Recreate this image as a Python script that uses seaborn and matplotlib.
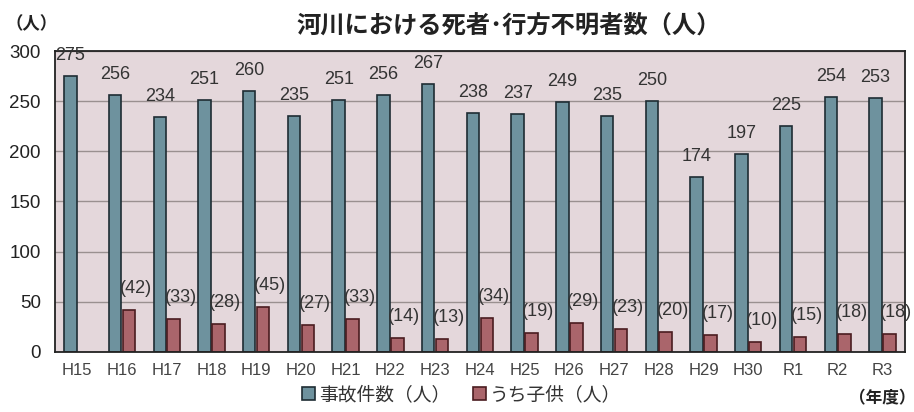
import pandas as pd
import numpy as np
import matplotlib
matplotlib.use("Agg")
import matplotlib.pyplot as plt
import seaborn as sns

# 年度
years = ['H15', 'H16', 'H17', 'H18', 'H19', 'H20', 'H21', 'H22', 'H23', 'H24',
         'H25', 'H26', 'H27', 'H28', 'H29', 'H30', 'R1', 'R2', 'R3']
# 事故件数（人）
total = [275, 256, 234, 251, 260, 235, 251, 256, 267, 238,
         237, 249, 235, 250, 174, 197, 225, 254, 253]
# うち子供（人） - H15 はデータなし
children = [np.nan, 42, 33, 28, 45, 27, 33, 14, 13, 34,
            19, 29, 23, 20, 17, 10, 15, 18, 18]

series_names = ['事故件数（人）', 'うち子供（人）']
colors = ['#6696a6', '#b55a62']
edges = ['#1e2c33', '#4a1c20']

df = pd.DataFrame({
    'year': years * 2,
    'value': total + children,
    'series': [series_names[0]] * len(years) + [series_names[1]] * len(years),
})

sns.set_style("white")
plt.rcParams['font.family'] = ['Liberation Sans', 'Noto Sans CJK JP', 'DejaVu Sans']
cjk = ['Noto Sans CJK JP', 'DejaVu Sans']

fig = plt.figure(figsize=(9.14, 4.12), dpi=100)
ax = fig.add_axes([0.060, 0.146, 0.930, 0.730])
ax.set_facecolor('#e4d7db')

sns.barplot(data=df, x='year', y='value', hue='series', order=years,
            hue_order=series_names, palette=colors, width=0.62, gap=0.1,
            linewidth=1.2, ax=ax, legend=True)

# bords sombres
for cont, ec in zip(ax.containers, edges):
    for p in cont:
        p.set_edgecolor(ec)

# étiquettes de valeurs
for i, cont in enumerate(ax.containers):
    for p in cont:
        h = p.get_height()
        if h is None or np.isnan(h):
            continue
        cx = p.get_x() + p.get_width() / 2
        if i == 0:
            ax.annotate(f"{int(h)}", (cx, h), xytext=(0, 15), textcoords='offset points',
                        ha='center', va='center', fontsize=13, color='#333333')
        else:
            ax.annotate(f"({int(h)})", (cx, h), xytext=(5, 15), textcoords='offset points',
                        ha='center', va='center', fontsize=13, color='#333333')

ax.set_ylim(0, 300)
ax.set_xlim(-0.5, len(years) - 0.5)
ax.set_yticks(range(0, 301, 50))
ax.yaxis.grid(True, color='#9a9090', linewidth=1.0)
ax.set_axisbelow(True)
ax.set_xlabel('')
ax.set_ylabel('')
ax.tick_params(axis='y', length=0, pad=10, labelsize=13.5, labelcolor='#222222')
ax.tick_params(axis='x', which='major', length=0, pad=8, labelsize=12, labelcolor='#444444')
ax.set_xticks(np.arange(-0.5, len(years), 1.0), minor=True)
ax.tick_params(axis='x', which='minor', direction='in', length=5, width=1.2, color='#222222')
for s in ax.spines.values():
    s.set_color('#222222')
    s.set_linewidth(1.3)

# légende en bas
handles, labels = ax.get_legend_handles_labels()
ax.get_legend().remove()
for hnd, ec in zip(handles, edges):
    hnd.set_edgecolor(ec)
fig.legend(handles, labels, loc='center', bbox_to_anchor=(0.505, 0.041), ncol=2,
           frameon=False, fontsize=13.5, handlelength=0.7, handleheight=0.7,
           handletextpad=0.2, columnspacing=1.2, labelcolor='#333333')

fig.text(0.556, 0.937, '河川における死者･行方不明者数（人）', ha='center', va='center',
         fontsize=17.5, fontweight='bold', family=cjk, color='#222222')
fig.text(0.034, 0.941, '（人）', ha='center', va='center', fontsize=12.5,
         fontweight='bold', family=cjk, color='#222222')
fig.text(0.965, 0.034, '（年度）', ha='center', va='center', fontsize=12,
         fontweight='bold', family=cjk, color='#222222')

fig.savefig('out.png', dpi=100)
